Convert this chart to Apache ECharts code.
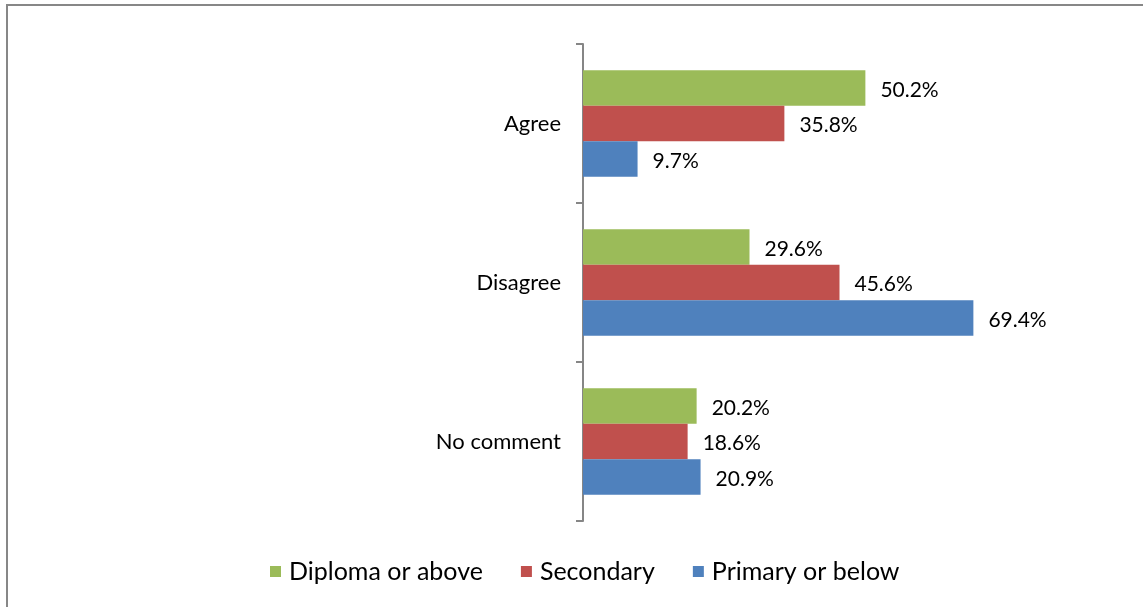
<!DOCTYPE html>
<html>
<head>
<meta charset="utf-8">
<script src="https://cdn.jsdelivr.net/npm/echarts@6/dist/echarts.min.js"></script>
<style>
  html, body { margin: 0; padding: 0; background: #fff; overflow: hidden; }
  #frame {
    position: absolute; left: 6px; top: 4px; width: 1200px; height: 700px;
    border-top: 2px solid #878787; border-left: 2px solid #878787;
  }
  #chart { position: absolute; left: 0; top: 0; width: 1143px; height: 607px; }
</style>
</head>
<body>
<div id="frame"></div>
<div id="chart"></div>
<script>
// Survey responses by education level (percent)
const categories = ['Agree', 'Disagree', 'No comment'];
const seriesNames = ['Diploma or above', 'Secondary', 'Primary or below'];
const diplomaOrAbove = [50.2, 29.6, 20.2];
const secondary = [35.8, 45.6, 18.6];
const primaryOrBelow = [9.7, 69.4, 20.9];

const colors = ['#9BBB59', '#C0504D', '#4F81BD'];
const values = [diplomaOrAbove, secondary, primaryOrBelow];
const font = 'Lato, "Open Sans", sans-serif';

const chart = echarts.init(document.getElementById('chart'), null, { renderer: 'canvas' });

chart.setOption({
  animation: false,
  backgroundColor: 'transparent',
  textStyle: { fontFamily: font },
  grid: { left: 583, right: 110, top: 44, bottom: 86, containLabel: false },
  legend: {
    top: 554,
    left: 265,
    itemWidth: 11,
    itemHeight: 11,
    itemGap: 38,
    icon: 'rect',
    textStyle: { fontFamily: font, fontSize: 25, color: '#000', padding: [0, 0, 0, 3] },
    data: seriesNames
  },
  xAxis: {
    type: 'value',
    min: 0,
    max: 80,
    show: false
  },
  yAxis: {
    type: 'category',
    inverse: true,
    data: categories,
    axisLine: { show: true, lineStyle: { color: '#868686', width: 2 } },
    axisTick: { show: true, length: 7, lineStyle: { color: '#868686', width: 2 } },
    axisLabel: { color: '#000', fontFamily: font, fontSize: 22, margin: 22 }
  },
  series: seriesNames.map((name, i) => ({
    name: name,
    type: 'bar',
    data: values[i],
    itemStyle: { color: colors[i] },
    barGap: '0%',
    barCategoryGap: '33%',
    label: {
      show: true,
      position: 'right',
      distance: 15,
      offset: [0, 2],
      color: '#000',
      fontFamily: font,
      fontSize: 21,
      formatter: p => p.value.toFixed(1) + '%'
    }
  }))
});
</script>
</body>
</html>
